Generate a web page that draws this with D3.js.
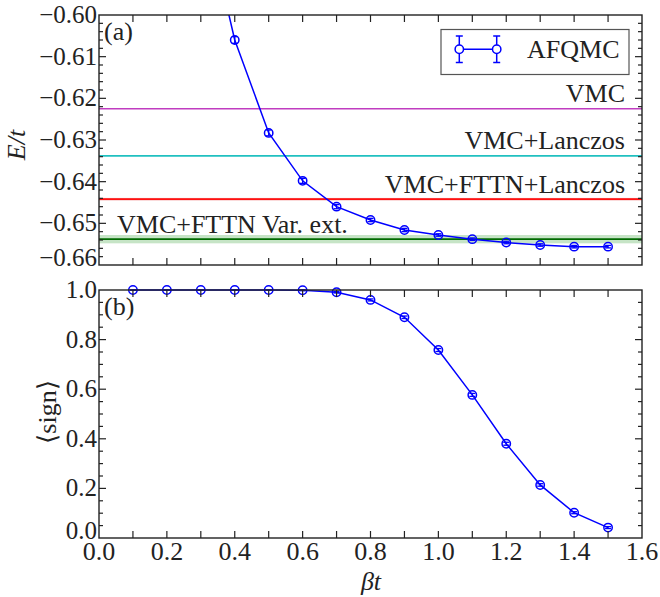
<!DOCTYPE html>
<html>
<head>
<meta charset="utf-8">
<script src="https://cdn.jsdelivr.net/npm/d3@7"></script>
<style>
  body { margin: 0; background: #fff; }
  svg { display: block; }
</style>
</head>
<body>
<svg id="chart" width="660" height="597"></svg>
<script>
// --- data ---
const betaT = [0.3, 0.4, 0.5, 0.6, 0.7, 0.8, 0.9, 1.0, 1.1, 1.2, 1.3, 1.4, 1.5];
const energy = [-0.571, -0.606, -0.6283, -0.6398, -0.6460, -0.6492, -0.6516, -0.6528, -0.6538, -0.6546, -0.6552, -0.6556, -0.6556];
const energyErr = [0.0008, 0.0008, 0.0007, 0.0006, 0.0005, 0.0004, 0.0004, 0.0003, 0.0003, 0.0003, 0.0003, 0.0003, 0.0003];

const betaSign = [0.1, 0.2, 0.3, 0.4, 0.5, 0.6, 0.7, 0.8, 0.9, 1.0, 1.1, 1.2, 1.3, 1.4, 1.5];
const sign = [1.0, 1.0, 1.0, 1.0, 1.0, 0.999, 0.991, 0.960, 0.890, 0.758, 0.577, 0.380, 0.214, 0.102, 0.042];
const signErr = [0.001, 0.001, 0.001, 0.001, 0.001, 0.002, 0.003, 0.004, 0.005, 0.006, 0.006, 0.006, 0.005, 0.004, 0.004];

// reference energies: name, value, error band, colour
const refNames = ['VMC', 'VMC+Lanczos', 'VMC+FTTN+Lanczos', 'VMC+FTTN Var. ext.'];
const refValues = [-0.6225, -0.6338, -0.6442, -0.6538];
const refErrors = [0, 0, 0.0003, 0.001];
const refColors = ['#c03cc0', '#20c0c0', '#ff1010', '#006a00'];
const refBands = [null, null, '#f4a8a8', '#c6e4c6'];

const xTicks = [0.0, 0.2, 0.4, 0.6, 0.8, 1.0, 1.2, 1.4, 1.6];
const eTicks = [-0.66, -0.65, -0.64, -0.63, -0.62, -0.61, -0.60];
const sTicks = [0.0, 0.2, 0.4, 0.6, 0.8, 1.0];

// --- layout ---
const FONT = "'Liberation Serif'";
const svg = d3.select('#chart');
const left = 99, right = 642;
const topA = 15, botA = 265;
const topB = 290, botB = 538;
const BLUE = '#0000ff';
const INK = '#222';

const x = d3.scaleLinear().domain([0, 1.6]).range([left, right]);
const yE = d3.scaleLinear().domain([-0.66, -0.60]).range([botA, topA]);
const yS = d3.scaleLinear().domain([0, 1.0]).range([botB, topB]);

function label(g, px, py, str, size, anchor) {
  return g.append('text').attr('x', px).attr('y', py)
    .style('font-family', FONT).style('font-size', size + 'px')
    .attr('text-anchor', anchor || 'start').attr('fill', INK).text(str);
}

svg.append('defs').append('clipPath').attr('id', 'clipA')
  .append('rect').attr('x', left).attr('y', topA).attr('width', right - left).attr('height', botA - topA);

// --- panel (a): reference lines ---
const refG = svg.append('g').attr('clip-path', 'url(#clipA)');
refValues.forEach((v, i) => {
  if (refBands[i]) {
    refG.append('rect')
      .attr('x', left).attr('width', right - left)
      .attr('y', yE(v + refErrors[i]))
      .attr('height', yE(v - refErrors[i]) - yE(v + refErrors[i]))
      .attr('fill', refBands[i]);
  }
  refG.append('line')
    .attr('x1', left).attr('x2', right)
    .attr('y1', yE(v)).attr('y2', yE(v))
    .attr('stroke', refColors[i]).attr('stroke-width', 1.6);
});

// labels for reference lines
refNames.forEach((name, i) => {
  const last = i === refNames.length - 1;
  label(svg, last ? 117 : 625, yE(refValues[i]) - 6.5, name, 26, last ? 'start' : 'end');
});

// --- series drawing helper ---
function drawSeries(g, xs, ys, errs, yScale) {
  const line = d3.line().x((d, i) => x(xs[i])).y(d => yScale(d));
  g.append('path').datum(ys)
    .attr('d', line)
    .attr('fill', 'none').attr('stroke', BLUE).attr('stroke-width', 1.5);
  ys.forEach((v, i) => {
    const cx = x(xs[i]);
    const y1 = yScale(v + errs[i]), y2 = yScale(v - errs[i]);
    g.append('line').attr('x1', cx).attr('x2', cx).attr('y1', y1).attr('y2', y2)
      .attr('stroke', BLUE).attr('stroke-width', 1.3);
    [y1, y2].forEach(yy => g.append('line')
      .attr('x1', cx - 3).attr('x2', cx + 3).attr('y1', yy).attr('y2', yy)
      .attr('stroke', BLUE).attr('stroke-width', 1.3));
    g.append('circle').attr('cx', cx).attr('cy', yScale(v)).attr('r', 4.2)
      .attr('fill', 'none').attr('stroke', BLUE).attr('stroke-width', 1.5);
  });
}

drawSeries(svg.append('g').attr('clip-path', 'url(#clipA)'), betaT, energy, energyErr, yE);
drawSeries(svg.append('g'), betaSign, sign, signErr, yS);

// --- frames and ticks ---
function frame(y0, y1, yScale, yMajor, yMinorStep, fmt) {
  const g = svg.append('g');
  // x ticks every 0.1, bottom and top, inward
  d3.range(1, 16).map(k => k / 10).forEach(t => {
    g.append('line').attr('x1', x(t)).attr('x2', x(t)).attr('y1', y1).attr('y2', y1 - 7)
      .attr('stroke', INK).attr('stroke-width', 1.2);
    g.append('line').attr('x1', x(t)).attr('x2', x(t)).attr('y1', y0).attr('y2', y0 + 7)
      .attr('stroke', INK).attr('stroke-width', 1.2);
  });
  // y ticks, left and right
  const [d0, d1] = yScale.domain();
  const nMinor = Math.round((d1 - d0) / yMinorStep);
  for (let k = 1; k < nMinor; k++) {
    const v = d0 + k * yMinorStep;
    const isMajor = yMajor.some(m => Math.abs(m - v) < yMinorStep / 10);
    const len = isMajor ? 7 : 4;
    const yy = yScale(v);
    g.append('line').attr('x1', left).attr('x2', left + len).attr('y1', yy).attr('y2', yy)
      .attr('stroke', INK).attr('stroke-width', 1.2);
    g.append('line').attr('x1', right).attr('x2', right - len).attr('y1', yy).attr('y2', yy)
      .attr('stroke', INK).attr('stroke-width', 1.2);
  }
  g.append('rect').attr('x', left).attr('y', y0).attr('width', right - left).attr('height', y1 - y0)
    .attr('fill', 'none').attr('stroke', INK).attr('stroke-width', 1.4);
  // y tick labels; the lowest one sits just above the axis line
  yMajor.forEach((v, i) => {
    const dy = i === 0 ? 0.5 : 8;
    label(g, left - 2, yScale(v) + dy, d3.format(fmt)(v).replace('-', '\u2212'), 25, 'end');
  });
}

frame(topA, botA, yE, eTicks, 0.002, '.2f');
frame(topB, botB, yS, sTicks, 0.05, '.1f');

// x tick labels
xTicks.forEach(t => label(svg, x(t), 560, d3.format('.1f')(t), 26, 'middle'));

// --- legend ---
const lg = svg.append('g');
lg.append('rect').attr('x', 441).attr('y', 29.5).attr('width', 188).attr('height', 45)
  .attr('fill', '#fff').attr('stroke', '#555').attr('stroke-width', 1.2);
const legX = [459.3, 496.7], legY = 49.3;
lg.append('line').attr('x1', legX[0]).attr('x2', legX[1]).attr('y1', legY).attr('y2', legY)
  .attr('stroke', BLUE).attr('stroke-width', 1.5);
legX.forEach(cx => {
  lg.append('line').attr('x1', cx).attr('x2', cx).attr('y1', 36).attr('y2', 62.5)
    .attr('stroke', BLUE).attr('stroke-width', 1.5);
  [36, 62.5].forEach(yy => lg.append('line').attr('x1', cx - 3.5).attr('x2', cx + 3.5)
    .attr('y1', yy).attr('y2', yy).attr('stroke', BLUE).attr('stroke-width', 1.5));
  lg.append('circle').attr('cx', cx).attr('cy', legY).attr('r', 4.2)
    .attr('fill', '#fff').attr('stroke', BLUE).attr('stroke-width', 1.5);
});
label(lg, 527, 58, 'AFQMC', 26);

// --- panel labels ---
label(svg, 104, 40, '(a)', 26);
label(svg, 104, 315, '(b)', 26);

// axis titles
label(svg, 0, 0, 'E/t', 26, 'middle').style('font-style', 'italic')
  .attr('transform', 'translate(25,145) rotate(-90)');
label(svg, 0, 0, '\u27E8sign\u27E9', 26, 'middle')
  .attr('transform', 'translate(56,412) rotate(-90)');
label(svg, 371, 590, '\u03B2t', 26, 'middle').style('font-style', 'italic');
</script>
</body>
</html>
